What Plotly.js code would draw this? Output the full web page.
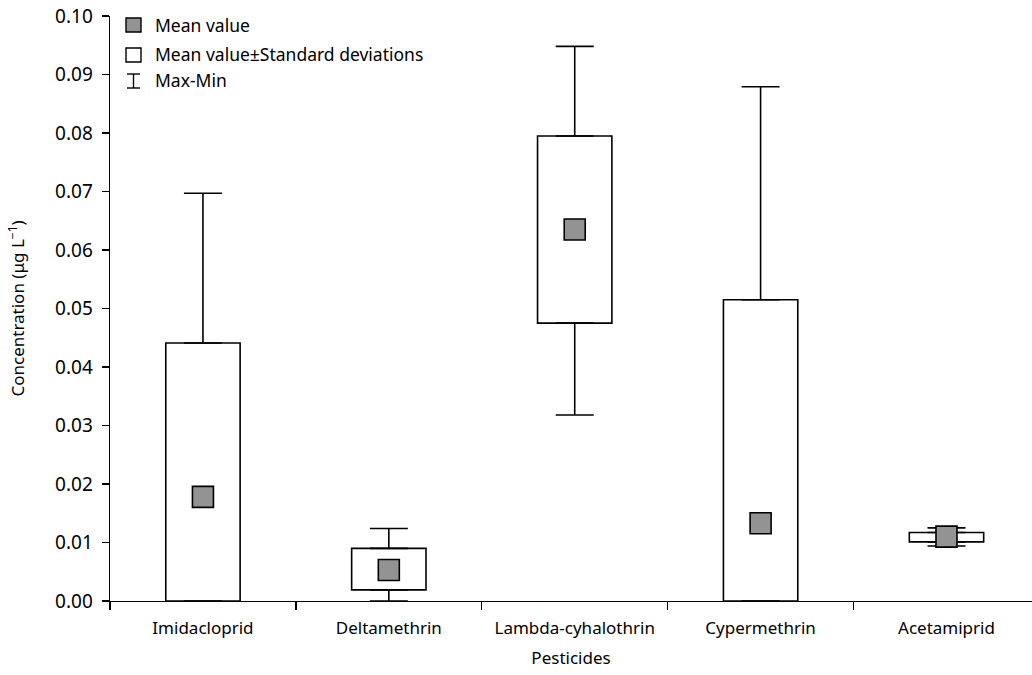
<!DOCTYPE html>
<html>
<head>
<meta charset="utf-8">
<script src="https://cdn.plot.ly/plotly-3.0.1.min.js"></script>
<style>html,body{margin:0;padding:0;background:#fff;overflow:hidden}</style>
</head>
<body>
<div id="chart" style="width:1032px;height:675px"></div>
<script>
const categories = ["Imidacloprid", "Deltamethrin", "Lambda-cyhalothrin", "Cypermethrin", "Acetamiprid"];
const meanValues = [0.0178, 0.0053, 0.0635, 0.0133, 0.0110];
const sdLower    = [0.0000, 0.0019, 0.0475, 0.0000, 0.0101];
const sdUpper    = [0.0441, 0.0090, 0.0795, 0.0515, 0.0117];
const maxValues  = [0.0697, 0.0124, 0.0948, 0.0879, 0.0125];
const minValues  = [0.0000, 0.0000, 0.0318, 0.0000, 0.0094];
const yTickVals  = [0, 0.01, 0.02, 0.03, 0.04, 0.05, 0.06, 0.07, 0.08, 0.09, 0.10];

const FONT = "Noto Sans, Open Sans, sans-serif";
const BLACK = "#000000";
const GRAY = "#939393";
const TXT = 17;

const boxTrace = {
  type: "bar",
  x: categories,
  base: sdLower,
  y: sdUpper.map((u, i) => u - sdLower[i]),
  width: 0.4,
  marker: {color: "#ffffff", line: {color: BLACK, width: 1.6}},
  showlegend: false,
  hoverinfo: "skip"
};

const upperWhisker = {
  type: "scatter",
  mode: "markers",
  x: categories,
  y: sdUpper,
  marker: {size: 1, opacity: 0},
  error_y: {
    type: "data", symmetric: false,
    array: maxValues.map((m, i) => m - sdUpper[i]),
    arrayminus: sdUpper.map(() => 0),
    width: 19, thickness: 1.6, color: BLACK
  },
  cliponaxis: false,
  showlegend: false,
  hoverinfo: "skip"
};

const lowerWhisker = {
  type: "scatter",
  mode: "markers",
  x: categories,
  y: sdLower,
  marker: {size: 1, opacity: 0},
  error_y: {
    type: "data", symmetric: false,
    array: sdLower.map(() => 0),
    arrayminus: sdLower.map((l, i) => l - minValues[i]),
    width: 19, thickness: 1.6, color: BLACK
  },
  cliponaxis: false,
  showlegend: false,
  hoverinfo: "skip"
};

const meanTrace = {
  type: "scatter",
  mode: "markers",
  x: categories,
  y: meanValues,
  marker: {symbol: "square", size: 21, color: GRAY, line: {color: BLACK, width: 1.6}},
  cliponaxis: false,
  showlegend: false
};

// plot area in pixels: x 110..1032, y 16..601
const L = 110, R = 1032, T = 16, B = 601;
const px = v => (v - L) / (R - L);
const py = v => (B - v) / (B - T);

const legendItems = ["Mean value", "Mean value±Standard deviations", "Max-Min"];
const legendY = [25, 54, 80];

const shapes = [
  {type: "rect", xref: "paper", yref: "paper", x0: px(126), x1: px(141), y0: py(32), y1: py(18),
   fillcolor: GRAY, line: {color: BLACK, width: 1.4}},
  {type: "rect", xref: "paper", yref: "paper", x0: px(126), x1: px(141), y0: py(62), y1: py(48),
   fillcolor: "#ffffff", line: {color: BLACK, width: 1.4}},
  {type: "line", xref: "paper", yref: "paper", x0: px(133.5), x1: px(133.5), y0: py(88), y1: py(74),
   line: {color: BLACK, width: 1.4}},
  {type: "line", xref: "paper", yref: "paper", x0: px(127), x1: px(140), y0: py(74), y1: py(74),
   line: {color: BLACK, width: 1.4}},
  {type: "line", xref: "paper", yref: "paper", x0: px(127), x1: px(140), y0: py(88), y1: py(88),
   line: {color: BLACK, width: 1.4}}
];

const annotations = legendItems.map((t, i) => ({
  xref: "paper", yref: "paper", x: px(153), y: py(legendY[i]),
  xanchor: "left", yanchor: "middle", showarrow: false, text: t,
  font: {family: FONT, size: 17.5, color: BLACK}
}));

const layout = {
  width: 1032, height: 675,
  margin: {l: L, r: 0, t: T, b: 675 - B, pad: 0},
  paper_bgcolor: "#ffffff", plot_bgcolor: "#ffffff",
  font: {family: FONT, color: BLACK},
  showlegend: false,
  bargap: 0,
  xaxis: {
    type: "category",
    range: [-0.5, 4.46],
    tickson: "boundaries",
    ticks: "outside", ticklen: 8, tickwidth: 1.3, tickcolor: BLACK,
    ticklabelstandoff: 11,
    showline: true, linecolor: BLACK, linewidth: 1.4,
    showgrid: false, zeroline: false,
    tickfont: {family: FONT, size: TXT, color: BLACK},
    title: {text: "Pesticides", font: {family: FONT, size: TXT, color: BLACK}, standoff: 14}
  },
  yaxis: {
    range: [0, 0.1],
    tickmode: "array", tickvals: yTickVals, tickformat: ".2f",
    ticks: "outside", ticklen: 7, tickwidth: 1.3, tickcolor: BLACK,
    ticklabelstandoff: 5,
    showline: true, linecolor: BLACK, linewidth: 1.4,
    showgrid: false, zeroline: false,
    tickfont: {family: FONT, size: 19, color: BLACK},
    title: {text: "Concentration (μg L<sup>−1</sup>)", font: {family: FONT, size: TXT, color: BLACK}, standoff: 26}
  },
  shapes: shapes,
  annotations: annotations
};

Plotly.newPlot("chart", [boxTrace, upperWhisker, lowerWhisker, meanTrace], layout, {displayModeBar: false, staticPlot: true});
</script>
</body>
</html>
